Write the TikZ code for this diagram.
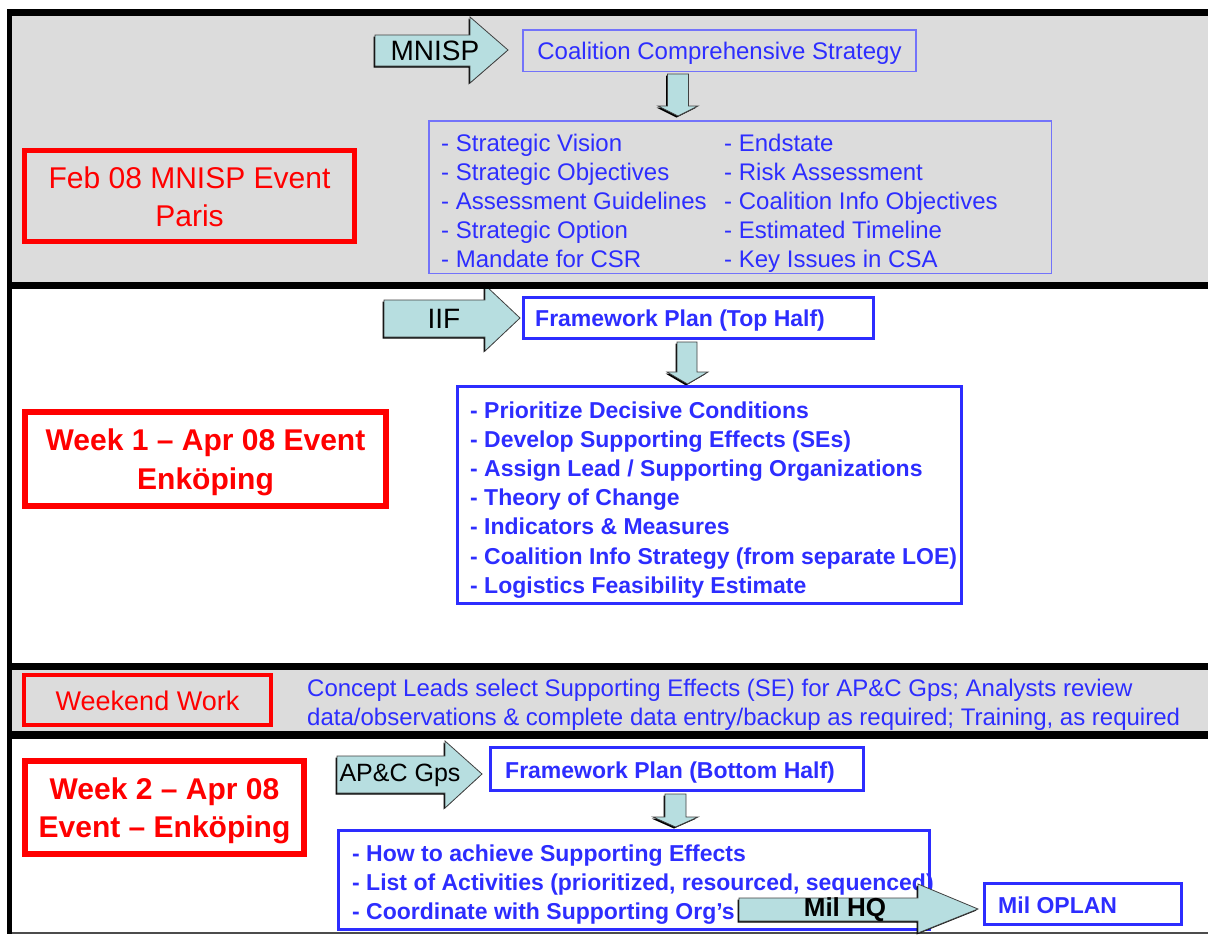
\documentclass[tikz,border=0pt]{standalone}
\usepackage{fontspec}
\setmainfont{Liberation Sans}
\usetikzlibrary{calc,shadows}
\definecolor{bggray}{RGB}{220,220,220}
\definecolor{arrowfill}{RGB}{183,222,224}
\definecolor{txtblue}{RGB}{45,45,255}
\definecolor{thinblue}{RGB}{115,115,250}
\definecolor{thickblue}{RGB}{45,45,255}
\definecolor{evred}{RGB}{255,0,0}
\newcommand{\fs}[2]{\fontsize{#1}{#2}\selectfont}
\begin{document}
\begin{tikzpicture}[x=1pt,y=-1pt,
  blockarrow/.style={fill=arrowfill, draw=black!75, line width=0.8pt, line join=miter,
    drop shadow={shadow xshift=-1.5pt, shadow yshift=-1.5pt, opacity=1, fill=black}},
  thinbox/.style={draw=thinblue, line width=1.5pt, inner sep=0pt},
  thickbox/.style={draw=thickblue, line width=3pt, inner sep=0pt},
  redbox/.style={draw=evred, inner sep=0pt},
  redtxt/.style={inner sep=0pt, text=evred, align=center},
  listtxt/.style={anchor=base west, inner sep=0pt, text=txtblue, font=\fs{24}{29}},
  boldtxt/.style={anchor=base west, inner sep=0pt, text=txtblue, font=\bfseries\fs{23}{29}},
  arrowlabel/.style={inner sep=0pt, text=black}
]
\useasboundingbox (0,0) rectangle (1208,935);
% backgrounds
\fill[bggray] (12,16) rectangle (1208,282);
\fill[bggray] (12,670) rectangle (1208,731);
\fill[black!70] (12,932) rectangle (1208,934);

% ---------- section 1 ----------
\draw[blockarrow] (375,35) -- (470,35) -- (470,17) -- (508,50) -- (470,83) -- (470,66) -- (375,66) -- cycle;
\node[arrowlabel, font=\fs{28}{30}] (mnisp) at (435,51) {MNISP};
\node[thinbox, minimum width=393pt, minimum height=41.5pt] (ccs) at (719.5,50.5) {};
\node[listtxt, anchor=base] (ccstxt) at (719.5,59) {Coalition Comprehensive Strategy};
\node[thinbox, minimum width=622.5pt, minimum height=152.5pt] (list1) at (740,197) {};
\draw[blockarrow] (667.5,74) -- (688.5,74) -- (688.5,106) -- (698,106) -- (678,116) -- (658,106) -- (667.5,106) -- cycle;
\foreach \t [count=\i] in {- Strategic Vision, - Strategic Objectives, - Assessment Guidelines, - Strategic Option, - Mandate for CSR}
  \node[listtxt] (la\i) at (441,{151+29*(\i-1)}) {\t};
\foreach \t [count=\i] in {- Endstate, - Risk Assessment, - Coalition Info Objectives, - Estimated Timeline, - Key Issues in CSA}
  \node[listtxt] (lb\i) at (724,{151+29*(\i-1)}) {\t};
\node[redbox, line width=5pt, minimum width=330pt, minimum height=91pt] (feb) at (189.5,196) {};
\node[redtxt, font=\fs{30}{38}] (febtxt) at (189.5,197) {Feb 08 MNISP Event\\Paris};

% ---------- section 2 ----------
\draw[blockarrow] (384,300) -- (485,300) -- (485,285) -- (520,318) -- (485,351) -- (485,337) -- (384,337) -- cycle;
\node[arrowlabel, font=\fs{28}{30}] (iif) at (444,319) {IIF};
\node[thickbox, minimum width=350pt, minimum height=41pt] (fwtop) at (698.5,318) {};
\node[boldtxt] (fwtoptxt) at (535,326) {Framework Plan (Top Half)};
\draw[blockarrow] (677,342) -- (697,342) -- (697,372) -- (708,372) -- (687.5,384) -- (667,372) -- (677,372) -- cycle;
\node[thickbox, minimum width=504pt, minimum height=217pt] (list2) at (709.5,495) {};
\foreach \t [count=\i] in {- Prioritize Decisive Conditions, - Develop Supporting Effects (SEs), - Assign Lead / Supporting Organizations, - Theory of Change, - Indicators \& Measures, - Coalition Info Strategy (from separate LOE), - Logistics Feasibility Estimate}
  \node[boldtxt] (lc\i) at (470,{418+29.2*(\i-1)}) {\t};
\node[redbox, line width=6pt, minimum width=361pt, minimum height=94pt] (week1) at (205.5,459) {};
\node[redtxt, font=\bfseries\fs{30}{39}] (week1txt) at (205.5,462) {Week 1 – Apr 08 Event\\Enköping};

% ---------- section 3 ----------
\node[redbox, line width=4pt, minimum width=247pt, minimum height=50pt] (weekend) at (147.5,700) {};
\node[redtxt, font=\fs{27}{30}] (weekendtxt) at (147.5,701) {Weekend Work};
\node[listtxt] (we1) at (307,696) {Concept Leads select Supporting Effects (SE) for AP\&C Gps; Analysts review};
\node[listtxt] (we2) at (307,725) {data/observations \& complete data entry/backup as required; Training, as required};

% ---------- section 4 ----------
\draw[blockarrow] (337,756) -- (445,756) -- (445,741) -- (482,774) -- (445,808) -- (445,793) -- (337,793) -- cycle;
\node[arrowlabel, font=\fs{25}{30}] (apc) at (400,775) {AP\&C Gps};
\node[thickbox, minimum width=373pt, minimum height=43pt] (fwbot) at (677,769) {};
\node[boldtxt] (fwbottxt) at (505,778) {Framework Plan (Bottom Half)};
\draw[blockarrow] (665,794) -- (686,794) -- (686,817) -- (698,817) -- (675.5,827) -- (653,817) -- (665,817) -- cycle;
\node[thickbox, minimum width=591pt, minimum height=99pt] (list3) at (634,880) {};
\foreach \t [count=\i] in {- How to achieve Supporting Effects, {- List of Activities (prioritized, resourced, sequenced)}, - Coordinate with Supporting Org's}
  \node[boldtxt] (ld\i) at (352,{861+29*(\i-1)}) {\t};
\draw[blockarrow] (739,898) -- (918,898) -- (918,884) -- (978,909) -- (918,933) -- (918,921) -- (739,921) -- cycle;
\node[arrowlabel, font=\bfseries\fs{26}{30}] (milhq) at (845,910) {Mil HQ};
\node[thickbox, minimum width=197pt, minimum height=41pt] (oplan) at (1083,904) {};
\node[boldtxt] (oplantxt) at (998,913) {Mil OPLAN};
\node[redbox, line width=6pt, minimum width=279pt, minimum height=93pt] (week2) at (164.5,807.5) {};
\node[redtxt, font=\bfseries\fs{30}{38}] (week2txt) at (164.5,811) {Week 2 – Apr 08\\Event – Enköping};

% ---------- black frame bands ----------
\fill[black] (7,9) rectangle (1208,16);
\fill[black] (7,282) rectangle (1208,289);
\fill[black] (7,663) rectangle (1208,670);
\fill[black] (7,731) rectangle (1208,739);
\fill[black] (7,9) rectangle (12,934);
\end{tikzpicture}
\end{document}
